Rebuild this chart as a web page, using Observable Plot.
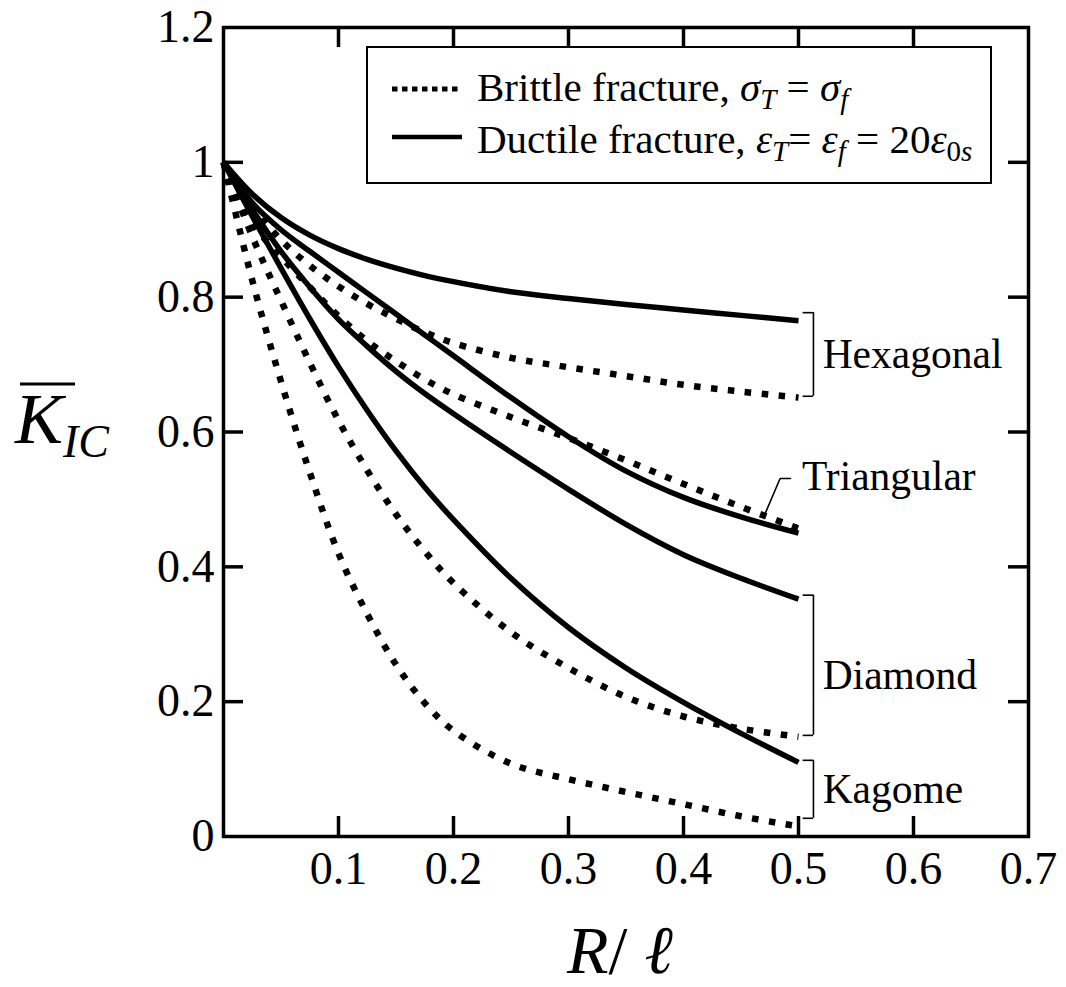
<!DOCTYPE html>
<html>
<head>
<meta charset="utf-8">
<script src="https://cdn.jsdelivr.net/npm/d3@7"></script>
<script src="https://cdn.jsdelivr.net/npm/@observablehq/plot@0.6"></script>
<style>
  html, body { margin: 0; padding: 0; background: #fff; }
  #chart { position: relative; width: 1066px; height: 987px; }
</style>
</head>
<body>
<div id="chart"></div>
<script>
// ---- data ----
const xs = [0, 0.025, 0.05, 0.075, 0.1, 0.125, 0.15, 0.175, 0.2, 0.25, 0.3, 0.35, 0.4, 0.45, 0.5];

const hexagonalDuctile  = [1, 0.953, 0.918, 0.892, 0.872, 0.856, 0.843, 0.832, 0.823, 0.808, 0.798, 0.789, 0.781, 0.773, 0.765];
const hexagonalBrittle  = [1, 0.935, 0.885, 0.847, 0.816, 0.790, 0.768, 0.748, 0.732, 0.710, 0.696, 0.683, 0.670, 0.660, 0.651];
const triangularDuctile = [1, 0.940, 0.900, 0.868, 0.837, 0.806, 0.775, 0.744, 0.713, 0.651, 0.593, 0.542, 0.503, 0.474, 0.450];
const triangularBrittle = [1, 0.910, 0.860, 0.815, 0.772, 0.735, 0.705, 0.678, 0.656, 0.622, 0.591, 0.558, 0.523, 0.489, 0.457];
const diamondDuctile    = [1, 0.930, 0.868, 0.815, 0.767, 0.727, 0.690, 0.657, 0.627, 0.570, 0.515, 0.463, 0.418, 0.383, 0.352];
const diamondBrittle    = [1, 0.890, 0.795, 0.703, 0.617, 0.543, 0.478, 0.423, 0.376, 0.303, 0.250, 0.207, 0.178, 0.160, 0.148];
const kagomeDuctile     = [1, 0.920, 0.843, 0.768, 0.697, 0.632, 0.572, 0.518, 0.470, 0.383, 0.310, 0.250, 0.199, 0.153, 0.110];
const kagomeBrittle     = [1, 0.825, 0.675, 0.540, 0.420, 0.330, 0.255, 0.198, 0.157, 0.108, 0.085, 0.066, 0.048, 0.030, 0.015];

const seriesList = [
  {name: "Hexagonal ductile", mode: "ductile", values: hexagonalDuctile},
  {name: "Hexagonal brittle", mode: "brittle", values: hexagonalBrittle},
  {name: "Triangular ductile", mode: "ductile", values: triangularDuctile},
  {name: "Triangular brittle", mode: "brittle", values: triangularBrittle},
  {name: "Diamond ductile", mode: "ductile", values: diamondDuctile},
  {name: "Diamond brittle", mode: "brittle", values: diamondBrittle},
  {name: "Kagome ductile", mode: "ductile", values: kagomeDuctile},
  {name: "Kagome brittle", mode: "brittle", values: kagomeBrittle}
];

const xTickLabels = [0.1, 0.2, 0.3, 0.4, 0.5, 0.6, 0.7];
const xTickMarks  = [0.1, 0.2, 0.3, 0.4, 0.5, 0.6];
const yTickLabels = [0, 0.2, 0.4, 0.6, 0.8, 1, 1.2];
const yTickMarks  = [0.2, 0.4, 0.6, 0.8, 1];

// group brackets at the curve ends
const bracketNames  = ["Hexagonal", "Diamond", "Kagome"];
const bracketTop    = [0.777, 0.358, 0.113];
const bracketBottom = [0.653, 0.150, 0.027];
const bracketLabelY = [0.715, 0.238, 0.070];
const triangularLabel = "Triangular";
const triangularLabelY = 0.534;
const triangularLeaderX = [0.471, 0.484, 0.493];
const triangularLeaderY = [0.479, 0.531, 0.531];

// ---- tables ----
const rows = seriesList.flatMap(s => xs.map((x, i) => ({series: s.name, mode: s.mode, x, y: s.values[i]})));
const brackets = bracketNames.map((name, i) => ({name, top: bracketTop[i], bottom: bracketBottom[i], labelY: bracketLabelY[i]}));
const leader = triangularLeaderX.map((x, i) => ({x, y: triangularLeaderY[i]}));

const W = 1066, H = 987;
const mL = 223, mR = 38, mT = 27, mB = 151;
const xUnitPx = (W - mL - mR) / 0.7;
const yUnitPx = (H - mT - mB) / 1.2;
const tickLen = 20;
const tx = tickLen / xUnitPx, ty = tickLen / yUnitPx;
const bx0 = 0.504, bx1 = 0.513, labelX = 0.521;

const serif = "'Liberation Serif', 'Times New Roman', serif";

const chart = Plot.plot({
  width: W, height: H,
  marginLeft: mL, marginRight: mR, marginTop: mT, marginBottom: mB,
  style: {fontFamily: serif, background: "white", color: "black", overflow: "visible"},
  x: {domain: [0, 0.7]},
  y: {domain: [0, 1.2]},
  marks: [
    Plot.line(rows.filter(d => d.mode === "ductile"), {x: "x", y: "y", z: "series", stroke: "black", strokeWidth: 5.5, curve: "catmull-rom", strokeLinecap: "butt"}),
    Plot.line(rows.filter(d => d.mode === "brittle"), {x: "x", y: "y", z: "series", stroke: "black", strokeWidth: 6.5, strokeDasharray: "6.5,10.5", curve: "catmull-rom", strokeLinecap: "butt"}),
    // brackets
    Plot.ruleX(brackets, {x: bx1, y1: "bottom", y2: "top", stroke: "black", strokeWidth: 1.6}),
    Plot.ruleY(brackets, {y: "top", x1: bx0, x2: bx1, stroke: "black", strokeWidth: 1.6}),
    Plot.ruleY(brackets, {y: "bottom", x1: bx0, x2: bx1, stroke: "black", strokeWidth: 1.6}),
    Plot.text(brackets, {x: labelX, y: "labelY", text: "name", textAnchor: "start", fontSize: 41.5, fill: "black"}),
    Plot.line(leader, {x: "x", y: "y", stroke: "black", strokeWidth: 1.6}),
    Plot.text([triangularLabel], {x: 0.503, y: triangularLabelY, text: d => d, textAnchor: "start", fontSize: 41.5, fill: "black"}),
    // inward ticks on all four sides
    Plot.ruleX(xTickMarks, {x: d => d, y1: 0, y2: ty, stroke: "black", strokeWidth: 3.5}),
    Plot.ruleX(xTickMarks, {x: d => d, y1: 1.2, y2: 1.2 - ty, stroke: "black", strokeWidth: 3.5}),
    Plot.ruleY(yTickMarks, {y: d => d, x1: 0, x2: tx, stroke: "black", strokeWidth: 3.5}),
    Plot.ruleY(yTickMarks, {y: d => d, x1: 0.7, x2: 0.7 - tx, stroke: "black", strokeWidth: 3.5}),
    Plot.axisX(xTickLabels, {tickSize: 0, tickPadding: 15, fontSize: 46, tickFormat: d => String(d), label: null}),
    Plot.axisY(yTickLabels, {tickSize: 0, tickPadding: 9, fontSize: 46, tickFormat: d => String(d), label: null}),
    Plot.frame({stroke: "black", strokeWidth: 3.5})
  ]
});

document.getElementById("chart").appendChild(chart);

// ---- legend and axis titles ----
const svg = d3.select(chart);
const g = svg.append("g").attr("font-family", serif).attr("fill", "black").attr("text-anchor", "start");

// legend box
g.append("rect").attr("x", 367).attr("y", 47).attr("width", 624).attr("height", 136)
  .attr("fill", "white").attr("stroke", "black").attr("stroke-width", 2);
g.append("line").attr("x1", 392).attr("x2", 462).attr("y1", 89).attr("y2", 89)
  .attr("stroke", "black").attr("stroke-width", 5).attr("stroke-dasharray", "5.5,4.5");
g.append("line").attr("x1", 392).attr("x2", 462).attr("y1", 137).attr("y2", 137)
  .attr("stroke", "black").attr("stroke-width", 4.5);

const t1 = g.append("text").attr("x", 477).attr("y", 101).attr("font-size", 41);
t1.append("tspan").text("Brittle fracture, ");
t1.append("tspan").attr("font-style", "italic").text("σ");
t1.append("tspan").attr("font-style", "italic").attr("font-size", 29).attr("dy", 8).text("T");
t1.append("tspan").attr("dy", -8).text(" = ");
t1.append("tspan").attr("font-style", "italic").text("σ");
t1.append("tspan").attr("font-style", "italic").attr("font-size", 29).attr("dy", 8).text("f");

const t2 = g.append("text").attr("x", 477).attr("y", 153).attr("font-size", 41);
t2.append("tspan").text("Ductile fracture, ");
t2.append("tspan").attr("font-style", "italic").text("ε");
t2.append("tspan").attr("font-style", "italic").attr("font-size", 29).attr("dy", 8).text("T");
t2.append("tspan").attr("dy", -8).text("= ");
t2.append("tspan").attr("font-style", "italic").text("ε");
t2.append("tspan").attr("font-style", "italic").attr("font-size", 29).attr("dy", 8).text("f");
t2.append("tspan").attr("dy", -8).text(" = 20");
t2.append("tspan").attr("font-style", "italic").text("ε");
t2.append("tspan").attr("font-size", 29).attr("dy", 8).text("0");
t2.append("tspan").attr("font-style", "italic").attr("font-size", 29).text("s");

// y title: K-bar IC
const yt = g.append("text").attr("x", 15).attr("y", 443).attr("font-size", 72).attr("font-style", "italic");
yt.append("tspan").text("K");
yt.append("tspan").attr("font-size", 46).attr("dy", 14).text("IC");
g.append("line").attr("x1", 20).attr("x2", 75).attr("y1", 384).attr("y2", 384)
  .attr("stroke", "black").attr("stroke-width", 3);

// x title: R/ ℓ
const xt = g.append("text").attr("x", 567).attr("y", 973).attr("font-size", 68);
xt.append("tspan").attr("font-style", "italic").text("R");
xt.append("tspan").text("/ ");
xt.append("tspan").attr("font-style", "italic").text("ℓ");
</script>
</body>
</html>
